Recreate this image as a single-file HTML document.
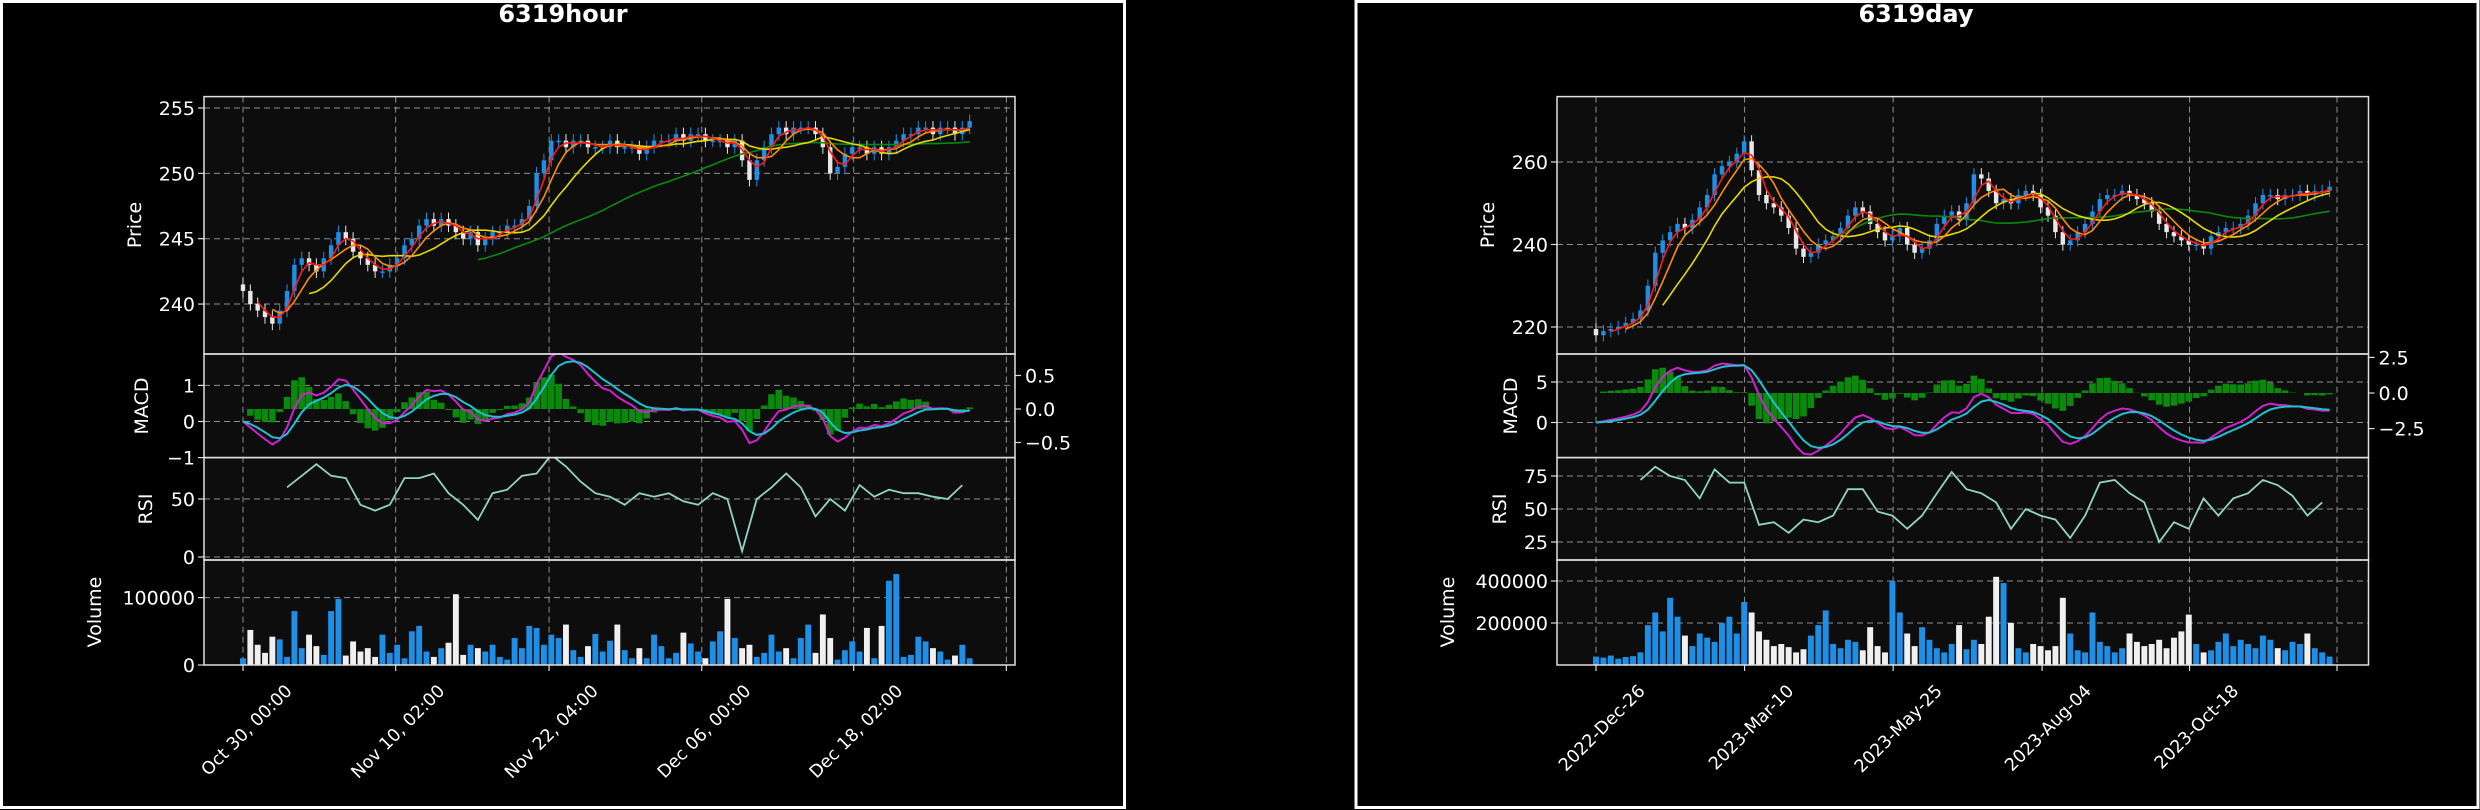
<!DOCTYPE html>
<html><head><meta charset="utf-8"><style>
html,body{margin:0;padding:0;background:#000;}
svg{display:block;font-family:"DejaVu Sans","Liberation Sans",sans-serif;}
</style></head><body>
<svg id="fig" xmlns="http://www.w3.org/2000/svg" width="2480" height="810" viewBox="0 0 2480 810">
<rect x="0" y="0" width="2480" height="810" fill="#000"/>
<rect x="1.5" y="1.5" width="1123" height="806" fill="none" stroke="#fff" stroke-width="3"/>
<rect x="1356" y="1.5" width="1122" height="806" fill="none" stroke="#fff" stroke-width="3"/>
<text x="563" y="22" fill="#fff" font-size="24" font-weight="bold" text-anchor="middle">6319hour</text>
<text x="1916" y="22" fill="#fff" font-size="24" font-weight="bold" text-anchor="middle">6319day</text>
</svg>
<script>
// ---- data ----
const hourClose=[241,240,239.5,239,238.5,239.5,241,243,243.5,243,
242.5,243.5,244.5,245.5,245,244,243.5,243,242.5,242.5,
243,243.5,244.5,245,246,246.5,246,246.5,246,245.5,
245,245.5,244.5,245,245.5,245.5,246,246,246.5,247.5,
250,251,252.5,252.5,252,252.5,252.5,252,252,252,
252.5,252,252,252,251.5,252,252.5,252.5,252.5,253,
252.5,253,253,252.5,252.5,252.5,252,252.5,251,249.5,
251,252,253,253.5,253,253.5,253.5,253.5,253,252,
250,250.5,251.5,252,252,251.5,252,251.5,252,252.5,
253,253,253.5,253.5,253,253.5,253.5,253,253.5,254];
const hourVolK=[10,52,30,18,42,38,12,80,25,45,28,15,80,98,14,35,20,25,12,45,
18,30,10,50,58,20,12,25,33,105,15,30,25,20,30,12,8,40,25,58,
55,30,45,40,60,22,12,28,46,20,36,60,22,10,25,10,45,28,10,18,
48,32,20,10,35,50,98,40,25,30,12,18,45,20,25,10,40,60,18,75,
40,8,22,35,20,55,10,58,125,135,12,15,42,35,25,20,8,14,30,10];
// RSI sampled every 2 bars starting at bar 6
const hourRsi=[60,70,80,70,68,45,40,45,68,68,72,55,45,32,55,58,70,72,88,78,65,55,52,45,55,52,55,48,45,55,50,5,50,60,72,60,35,50,40,62,52,58,55,55,52,50,62];
const hourRsiStart=6;
const hourTickLabels=['Oct 30, 00:00','Nov 10, 02:00','Nov 22, 04:00','Dec 06, 00:00','Dec 18, 02:00',''];
const hourTickIdx=[0,20.8,41.7,62.5,83.2,104];

const dayClose=[218,219,219.5,220,221,222,224,230,238,241,
243,245,244,246,249,252,257,259,260,262,
265,258,252,250,249,247,244,239,237,238,
240,241,242,244,247,249,248,245,243,241,
242,244,240,238,239,241,245,247,248,246,
250,257,256,253,250,251,250,252,253,252,
249,247,243,240,241,243,245,248,251,252,
252,253,252,251,250,248,245,243,242,241,
240,240,239,242,243,244,244,245,247,250,
252,252,251,252,252,253,252,253,253,254];
const dayVolK=[40,35,45,30,38,42,60,190,250,160,320,230,140,90,150,130,110,200,230,150,
300,250,160,120,90,100,85,60,75,140,190,260,100,80,120,110,70,180,90,60,
400,250,150,90,180,120,80,60,100,190,75,120,100,230,420,390,200,80,60,100,
90,70,90,320,150,70,60,250,110,90,60,80,150,110,90,100,120,80,130,160,
240,100,60,70,110,150,90,120,100,80,140,120,80,70,110,100,150,80,60,40];
const dayRsi=[72,82,75,72,58,80,70,70,38,40,32,42,40,45,65,65,48,45,35,45,62,78,65,62,55,35,50,45,42,28,45,70,72,62,55,25,40,35,58,45,58,62,72,68,60,45,55];
const dayRsiStart=6;
const dayTickLabels=['2022-Dec-26','2023-Mar-10','2023-May-25','2023-Aug-04','2023-Oct-18',''];
const dayTickIdx=[0,20.05,40.1,60.2,80.1,100];

const hourPriceTicks=[240,245,250,255];
const hourMacdTicks=[-1,0,1];
const hourMacdTickLabels=['\u22121','0','1'];
const hourHistTicks=[-0.5,0,0.5];
const hourHistTickLabels=['\u22120.5','0.0','0.5'];
const hourRsiTicks=[0,50];
const hourVolTicks=[0,100];
const hourVolTickLabels=['0','100000'];

const dayPriceTicks=[220,240,260];
const dayMacdTicks=[0,5];
const dayMacdTickLabels=['0','5'];
const dayHistTicks=[-2.5,0,2.5];
const dayHistTickLabels=['\u22122.5','0.0','2.5'];
const dayRsiTicks=[25,50,75];
const dayVolTicks=[200,400];
const dayVolTickLabels=['200000','400000'];

// ---- helpers ----
const NS='http://www.w3.org/2000/svg';
const svg=document.getElementById('fig');
function mk(tag,attrs,parent){const e=document.createElementNS(NS,tag);for(const k in attrs)e.setAttribute(k,attrs[k]);(parent||svg).appendChild(e);return e;}
function sma(a,w){return a.map((v,i)=>{if(i<w-1)return null;let s=0;for(let j=i-w+1;j<=i;j++)s+=a[j];return s/w;});}
function ema(a,span){const k=2/(span+1);const o=[];a.forEach((v,i)=>o.push(i?k*v+(1-k)*o[i-1]:v));return o;}

function drawChart(c){
  const L=c.left,R=c.right;
  const panels=[[96.6,354],[354,457.6],[457.6,560],[560,665]];
  const pnames=['price-panel','macd-panel','rsi-panel','volume-panel'];
  const g=mk('g',{});
  
  
  panels.forEach((p,i)=>{
    const r=mk('rect',{x:L,y:p[0],width:R-L,height:p[1]-p[0],fill:'#0d0d0d'},g);
    
    
    const cp=mk('clipPath',{id:c.name+'clip'+i},g);
    mk('rect',{x:L,y:p[0],width:R-L,height:p[1]-p[0]},cp);
  });
  const X=i=>c.x0+i*c.dx;
  c.tickIdx.forEach((ti,k)=>{
    const x=X(ti);
    const gl=mk('line',{x1:x,x2:x,y1:96.6,y2:665,stroke:'#b0b0b0','stroke-width':1,'stroke-dasharray':'6,4',opacity:0.8},g);
    
    
    const tk=mk('line',{x1:x,x2:x,y1:665,y2:671,stroke:'#ddd','stroke-width':1.2},g);
    
    
    if(c.tickLabels[k]){
      const t=mk('text',{transform:`translate(${x+50},${692}) rotate(-45)`,'text-anchor':'end',fill:'#fff','font-size':17.5},g);
      t.textContent=c.tickLabels[k];
      
      
    }
  });
  function yticks(vals,labels,ys,right,pi){
    vals.forEach((v,k)=>{
      const y=ys(v);
      if(!right){
        const gl=mk('line',{x1:L,x2:R,y1:y,y2:y,stroke:'#b0b0b0','stroke-width':1,'stroke-dasharray':'6,4',opacity:0.8},g);
        
        
      }
      const x=right?R:L;
      const tk=mk('line',{x1:x,x2:right?x+6:x-6,y1:y,y2:y,stroke:'#ddd','stroke-width':1.2},g);
      
      
      const t=mk('text',{x:right?R+10:L-9,y:y+7,'text-anchor':right?'start':'end',fill:'#fff','font-size':19},g);
      t.textContent=labels[k];
      
      
    });
  }
  yticks(c.priceTicks,c.priceTicks.map(String),c.yP,false,0);
  yticks(c.macdTicks,c.macdTickLabels,c.yM,false,1);
  yticks(c.histTicks,c.histTickLabels,c.yH,true,1);
  yticks(c.rsiTicks,c.rsiTicks.map(String),c.yR,false,2);
  yticks(c.volTicks,c.volTickLabels,c.yV,false,3);
  const cl=c.close;
  const cg=mk('g',{'clip-path':`url(#${c.name}clip0)`},g);
  cl.forEach((v,i)=>{
    const o=i?cl[i-1]:v+c.wick;
    const up=v>=o;const col=up?'#1e8fe6':'#e8e8e8';
    const x=X(i);
    const w=mk('line',{x1:x,x2:x,y1:c.yP(Math.max(o,v)+c.wick),y2:c.yP(Math.min(o,v)-c.wick),stroke:col,'stroke-width':1},cg);
    
    
    const y1=c.yP(Math.max(o,v)),y2=c.yP(Math.min(o,v));
    const b=mk('rect',{x:x-c.dx*0.3,y:y1,width:c.dx*0.6,height:Math.max(1.5,y2-y1),fill:col},cg);
    
    
  });
  function line(vals,ys,col,w,clip,name,xf){
    const xx=xf||X;
    const pts=[];vals.forEach((v,i)=>{if(v!==null)pts.push(xx(i).toFixed(1)+','+ys(v).toFixed(1));});
    const p=mk('polyline',{points:pts.join(' '),fill:'none',stroke:col,'stroke-width':w,'clip-path':`url(#${c.name}clip${clip})`},g);
    
    
  }
  line(sma(cl,33),c.yP,'#0a8a0a',1.6,0,'ma-long-line');
  line(sma(cl,10),c.yP,'#e6d800',1.6,0,'ma-20-line');
  line(sma(cl,5),c.yP,'#ff8c00',1.6,0,'ma-10-line');
  line(sma(cl,3),c.yP,'#ff1a1a',1.6,0,'ma-5-line');
  const ef=ema(cl,5),es=ema(cl,11);
  const macd=ef.map((v,i)=>v-es[i]);
  const sig=ema(macd,4);
  const hist=macd.map((v,i)=>v-sig[i]);
  const hg=mk('g',{'clip-path':`url(#${c.name}clip1)`},g);
  hist.forEach((h,i)=>{
    const y0=c.yH(0),y1=c.yH(h);
    const b=mk('rect',{x:X(i)-c.dx*0.45,y:Math.min(y0,y1),width:c.dx*0.9,height:Math.abs(y1-y0),fill:'#0a8a0a'},hg);
    
    
  });
  line(macd,c.yM,'#d020d0',2,1,'macd-line');
  line(sig,c.yM,'#20c0d0',2,1,'macd-signal-line');
  line(c.rsi,c.yR,'#90d4c4',1.8,2,'rsi-line',i=>X(c.rsiStart+2*i));
  const vg=mk('g',{'clip-path':`url(#${c.name}clip3)`},g);
  c.vol.forEach((v,i)=>{
    const up=i===0?true:(i<cl.length?cl[i]>=cl[i-1]:true);
    const y=c.yV(v);
    const b=mk('rect',{x:X(i)-c.dx*0.4,y:y,width:c.dx*0.8,height:665-y,fill:up?'#1e8fe6':'#f0f0f0'},vg);
    
    
  });
  panels.forEach((p,i)=>{
    const r=mk('rect',{x:L,y:p[0],width:R-L,height:p[1]-p[0],fill:'none',stroke:'#e0e0e0','stroke-width':1.5},g);
    
    
  });
  const labs=[['Price',c.labX[0],225],['MACD',c.labX[1],406],['RSI',c.labX[2],509],['Volume',c.labX[3],612]];
  labs.forEach(a=>{
    const t=mk('text',{transform:`translate(${a[1]},${a[2]}) rotate(-90)`,'text-anchor':'middle',fill:'#fff','font-size':19},g);
    t.textContent=a[0];
    
    
  });
}

drawChart({name:'hour',left:204,right:1015,x0:243,dx:7.34,wick:0.5,
  close:hourClose,vol:hourVolK,rsi:hourRsi,rsiStart:hourRsiStart,tickIdx:hourTickIdx,tickLabels:hourTickLabels,
  priceTicks:hourPriceTicks,macdTicks:hourMacdTicks,macdTickLabels:hourMacdTickLabels,
  histTicks:hourHistTicks,histTickLabels:hourHistTickLabels,rsiTicks:hourRsiTicks,
  volTicks:hourVolTicks,volTickLabels:hourVolTickLabels,
  yP:p=>108+(255-p)*13.07,yM:v=>421.5-v*36.1,yH:v=>409-v*67,yR:v=>557-v*1.16,yV:k=>665-k*0.674,
  labX:[141,148,152,101]});
drawChart({name:'day',left:1557,right:2368.5,x0:1596,dx:7.41,wick:1.5,
  close:dayClose,vol:dayVolK,rsi:dayRsi,rsiStart:dayRsiStart,tickIdx:dayTickIdx,tickLabels:dayTickLabels,
  priceTicks:dayPriceTicks,macdTicks:dayMacdTicks,macdTickLabels:dayMacdTickLabels,
  histTicks:dayHistTicks,histTickLabels:dayHistTickLabels,rsiTicks:dayRsiTicks,
  volTicks:dayVolTicks,volTickLabels:dayVolTickLabels,
  yP:p=>162+(260-p)*4.125,yM:v=>422.5-v*8.1,yH:v=>393-v*14.24,yR:v=>509-(v-50)*1.32,yV:k=>665-k*0.21,
  labX:[1494,1517,1506,1454]});
</script>
</body></html>
